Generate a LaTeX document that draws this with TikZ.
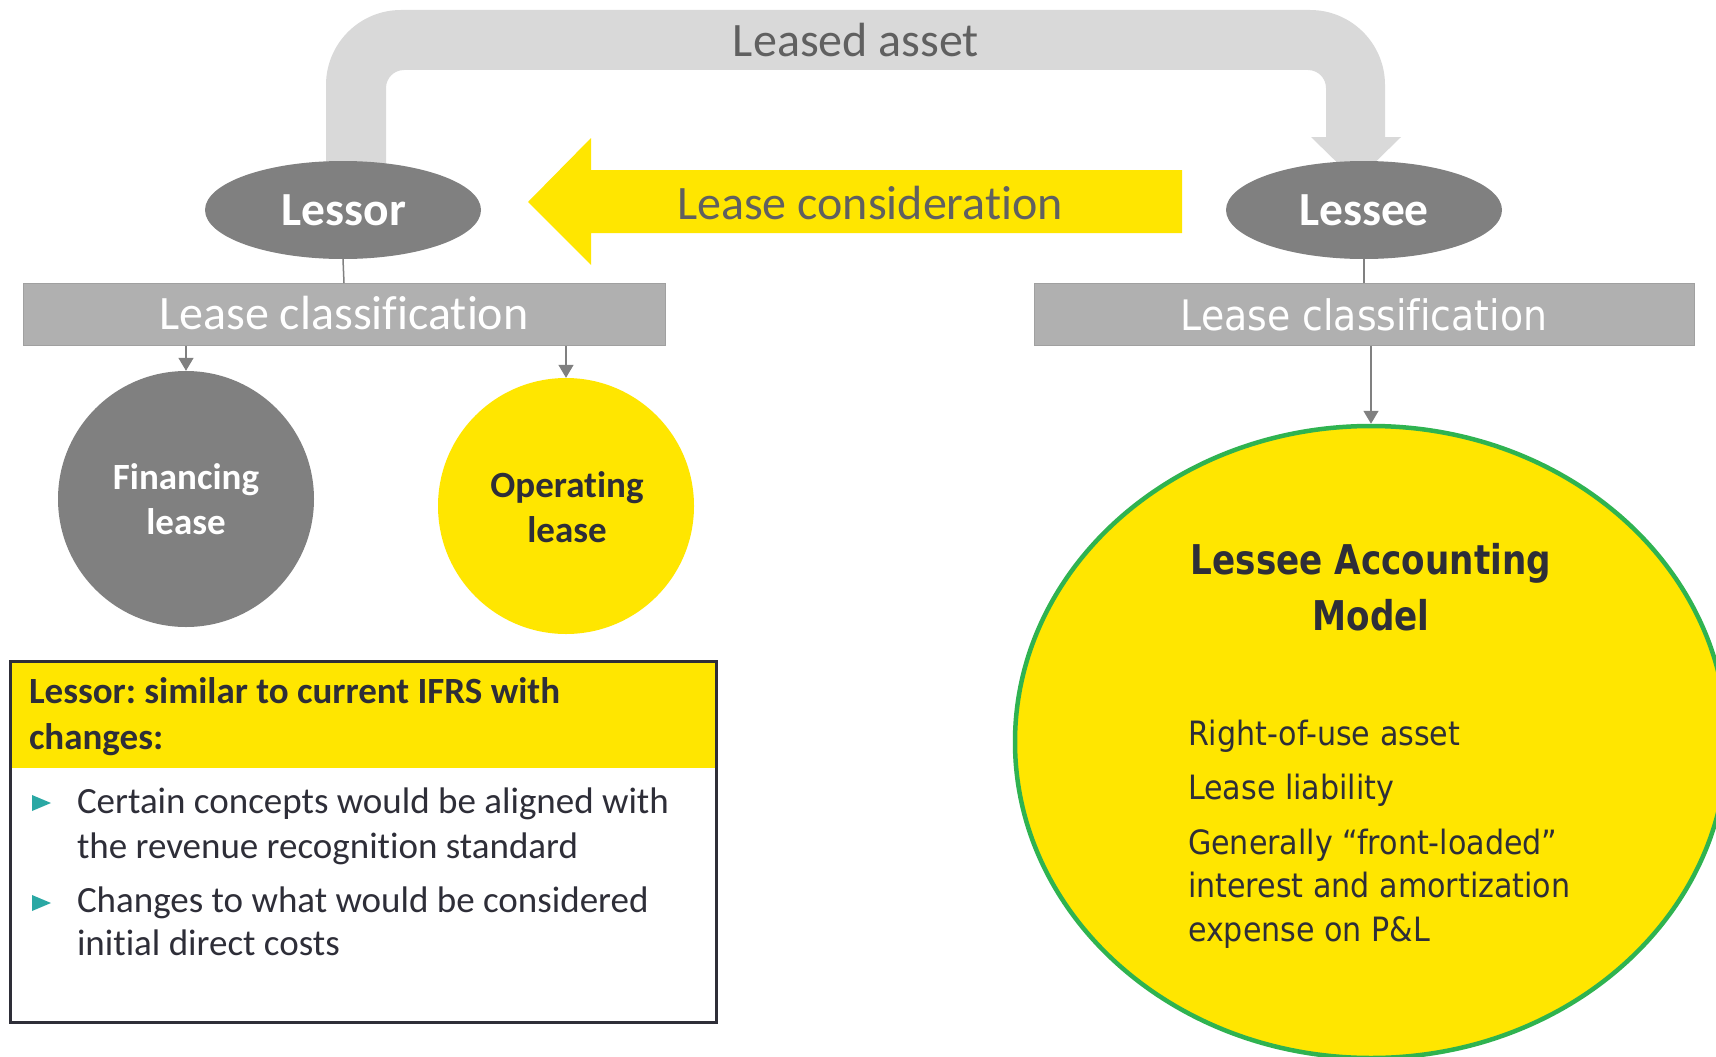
\documentclass[tikz,border=0pt]{standalone}
\usepackage{fontspec}
\setmainfont{Carlito}[Ligatures={NoCommon}]
\newfontfamily\widefont{DejaVu Sans}[FakeStretch=0.9, Ligatures={NoCommon}]
\newfontfamily\titlefont{DejaVu Sans}[FakeStretch=0.834, Ligatures={NoCommon}]
\usetikzlibrary{arrows.meta,shapes.geometric}
\frenchspacing

\definecolor{archgray}{HTML}{D9D9D9}
\definecolor{labelgray}{HTML}{606060}
\definecolor{eyyellow}{HTML}{FFE600}
\definecolor{nodegray}{HTML}{808080}
\definecolor{boxgray}{HTML}{B0B0B0}
\definecolor{boxedge}{HTML}{A0A0A0}
\definecolor{inkdark}{HTML}{2E2E38}
\definecolor{bullteal}{HTML}{2AA8A4}
\definecolor{rimgreen}{HTML}{2FB350}
\definecolor{linegray}{HTML}{808080}

\tikzset{
  txt/.style={inner sep=0pt, outer sep=0pt, anchor=base},
  txtl/.style={inner sep=0pt, outer sep=0pt, anchor=base west},
  party/.style={ellipse, fill=nodegray, minimum width=276pt, minimum height=98pt, inner sep=0pt},
  classbox/.style={rectangle, fill=boxgray, draw=boxedge, line width=1pt, minimum width=642pt, minimum height=62pt, inner sep=0pt},
  leasecircle/.style={circle, minimum size=256pt, inner sep=0pt},
  conn/.style={draw=linegray, line width=1.5pt},
  arr/.style={conn, -{Triangle[width=15pt,length=13pt]}},
  bigcap/.style={font=\fontsize{48}{48}\selectfont},
  leftbody/.style={font=\fontsize{37}{37}\selectfont, text=inkdark},
  rightbody/.style={font=\widefont\fontsize{33.5}{33.5}\selectfont, text=inkdark},
}

\begin{document}
\begin{tikzpicture}[x=1pt,y=-1pt]
\useasboundingbox (0,0) rectangle (1716,1057);
\clip (0,0) rectangle (1716,1057);
\fill[white] (0,0) rectangle (1716,1057);

% bent band carrying the leased asset from lessor to lessee
\fill[archgray] (326,190) -- (326,85) arc[start angle=180,end angle=270,radius=75]
  -- (1310,10) arc[start angle=270,end angle=360,radius=75]
  -- (1385,137) -- (1401,137) -- (1356,181) -- (1311,137) -- (1326,137)
  -- (1326,88) arc[start angle=0,end angle=-90,radius=18]
  -- (404,70) arc[start angle=270,end angle=180,radius=18]
  -- (386,190) -- cycle;
\node[txt, bigcap, text=labelgray] (assetlbl) at (856,57) {Leased asset};

% consideration flowing back to the lessor
\fill[eyyellow] (528,202) -- (591,138) -- (591,170) -- (1182,170) -- (1182,233)
  -- (591,233) -- (591,265) -- cycle;
\node[txt, bigcap, text=labelgray] (considlbl) at (870,219) {Lease consideration};

% the two parties
\node[party] (lessor) at (343,210) {};
\node[txt, font=\fontsize{47.5}{47.5}\selectfont\bfseries, text=white] (lessortxt) at (344,225) {Lessor};
\node[party] (lessee) at (1364,210) {};
\node[txt, font=\fontsize{47.5}{47.5}\selectfont\bfseries, text=white] (lesseetxt) at (1364,225) {Lessee};

% lessor side classification
\node[classbox] (lcl) at (344,314.5) {};
\node[txt, bigcap, text=white] (lcltxt) at (344,329) {Lease classification};
\draw[conn] (lessor.south) -- (lcl.north);

\node[leasecircle, fill=nodegray] (fin) at (186,499) {};
\node[txt, font=\fontsize{37}{37}\selectfont\bfseries, text=white] (fin1) at (186,489) {Financing};
\node[txt, font=\fontsize{37}{37}\selectfont\bfseries, text=white] (fin2) at (186,534) {lease};

\node[leasecircle, fill=eyyellow] (op) at (566,506) {};
\node[txt, font=\fontsize{37}{37}\selectfont\bfseries, text=inkdark] (op1) at (567,497) {Operating};
\node[txt, font=\fontsize{37}{37}\selectfont\bfseries, text=inkdark] (op2) at (567,542) {lease};

\draw[arr] (fin.north |- lcl.south) -- (fin.north);
\draw[arr] (op.north |- lcl.south) -- (op.north);

% lessor summary box
\node[rectangle, fill=eyyellow, minimum width=706pt, minimum height=108pt, inner sep=0pt, anchor=north west] (hdr) at (9,660) {};
\node[rectangle, draw=inkdark, line width=2.5pt, minimum width=706pt, minimum height=361pt, inner sep=0pt, anchor=north west] (sumbox) at (9,660) {};
\node[txtl, font=\fontsize{37}{37}\selectfont\bfseries, text=inkdark] (hdr1) at (29,703) {Lessor: similar to current IFRS with};
\node[txtl, font=\fontsize{37}{37}\selectfont\bfseries, text=inkdark] (hdr2) at (29,749) {changes:};

\fill[bullteal] (32,795) -- (51,803) -- (32,811) -- cycle;
\node[txtl, leftbody] (b1a) at (77,813) {Certain concepts would be aligned with};
\node[txtl, leftbody] (b1b) at (77,858) {the revenue recognition standard};
\fill[bullteal] (32,895) -- (51,903) -- (32,911) -- cycle;
\node[txtl, leftbody] (b2a) at (77,912) {Changes to what would be considered};
\node[txtl, leftbody] (b2b) at (77,955) {initial direct costs};

% lessee side classification
\node[classbox, minimum width=660pt] (rcl) at (1364,314.5) {};
\node[txt, font=\widefont\fontsize{42}{42}\selectfont, text=white] (rcltxt) at (1364,330) {Lease classification};
\draw[conn] (lessee.south) -- (rcl.north);

\node[ellipse, fill=eyyellow, draw=rimgreen, line width=4.5pt, minimum width=712pt, minimum height=632pt, inner sep=0pt] (model) at (1371,742) {};
\draw[arr] (model.north |- rcl.south) -- (model.north);

\node[txt, font=\titlefont\fontsize{41}{41}\selectfont\bfseries, text=inkdark] (m1) at (1371,574) {Lessee Accounting};
\node[txt, font=\titlefont\fontsize{41}{41}\selectfont\bfseries, text=inkdark] (m2) at (1371,630) {Model};

\node[txtl, rightbody] (r1) at (1188,745) {Right-of-use asset};
\node[txtl, rightbody] (r2) at (1188,799) {Lease liability};
\node[txtl, rightbody] (r3) at (1188,854) {Generally “front-loaded”};
\node[txtl, rightbody] (r4) at (1188,897) {interest and amortization};
\node[txtl, rightbody] (r5) at (1188,941) {expense on P\&L};
\end{tikzpicture}
\end{document}
